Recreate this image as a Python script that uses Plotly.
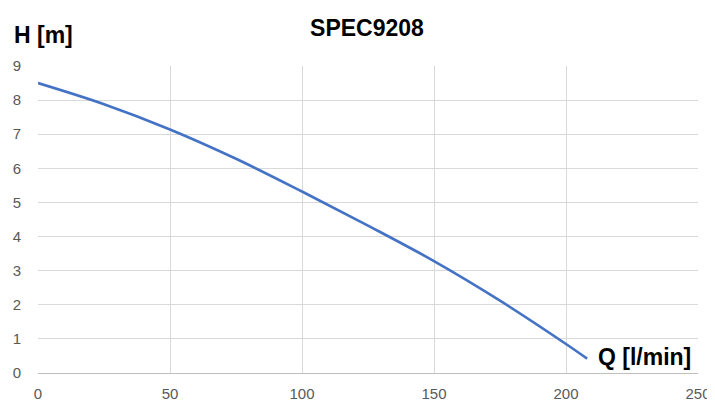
import plotly.graph_objects as go

q_values = [0, 25, 50, 75, 100, 125, 150, 175, 200, 208]
h_values = [8.5, 7.88, 7.14, 6.28, 5.32, 4.32, 3.28, 2.12, 0.85, 0.42]

title_text = "SPEC9208"
y_title = "H [m]"
x_title = "Q [l/min]"

fig = go.Figure()
fig.add_trace(go.Scatter(
    x=q_values, y=h_values, mode="lines",
    line=dict(color="#4472C4", width=2.6, shape="spline", smoothing=1.0),
    showlegend=False, hoverinfo="skip",
))

grid = "#D9D9D9"
fam = "Liberation Sans, Arial, sans-serif"
tickfont = dict(family=fam, size=15, color="#595959")

# page body has an 8px margin, so the figure is offset by 8px
W, H = 707, 395
fig.update_layout(
    width=W, height=H,
    margin=dict(l=30, r=17, t=58, b=30, autoexpand=False),
    paper_bgcolor="white", plot_bgcolor="white",
    title=dict(text="<b>" + title_text + "</b>", x=359 / W, xanchor="center",
               y=1 - 20 / H, yanchor="middle", automargin=False,
               font=dict(family=fam, size=23, color="#000000")),
    xaxis=dict(range=[0, 250], tickvals=[0, 50, 100, 150, 200, 250],
               showgrid=True, gridcolor=grid, gridwidth=1,
               showline=True, linecolor="#BFBFBF", linewidth=1,
               zeroline=False, ticks="", tickfont=tickfont, ticklabelstandoff=7,
               automargin=False),
    yaxis=dict(range=[0, 9], tickvals=list(range(0, 10)),
               showgrid=True, gridcolor=grid, gridwidth=1,
               showline=False, zeroline=False, ticks="", tickfont=tickfont,
               ticklabelstandoff=16, automargin=False),
    annotations=[
        dict(text="<b>" + y_title + "</b>", xref="paper", yref="paper",
             x=-0.0394, y=1.101, xanchor="left", yanchor="middle",
             showarrow=False,
             font=dict(family=fam, size=23, color="#000000")),
        dict(text="<b>" + x_title + "</b>", xref="paper", yref="paper",
             x=0.992, y=0.052, xanchor="right", yanchor="middle",
             showarrow=False,
             font=dict(family=fam, size=23, color="#000000")),
    ],
)

fig.write_html("out.html")
